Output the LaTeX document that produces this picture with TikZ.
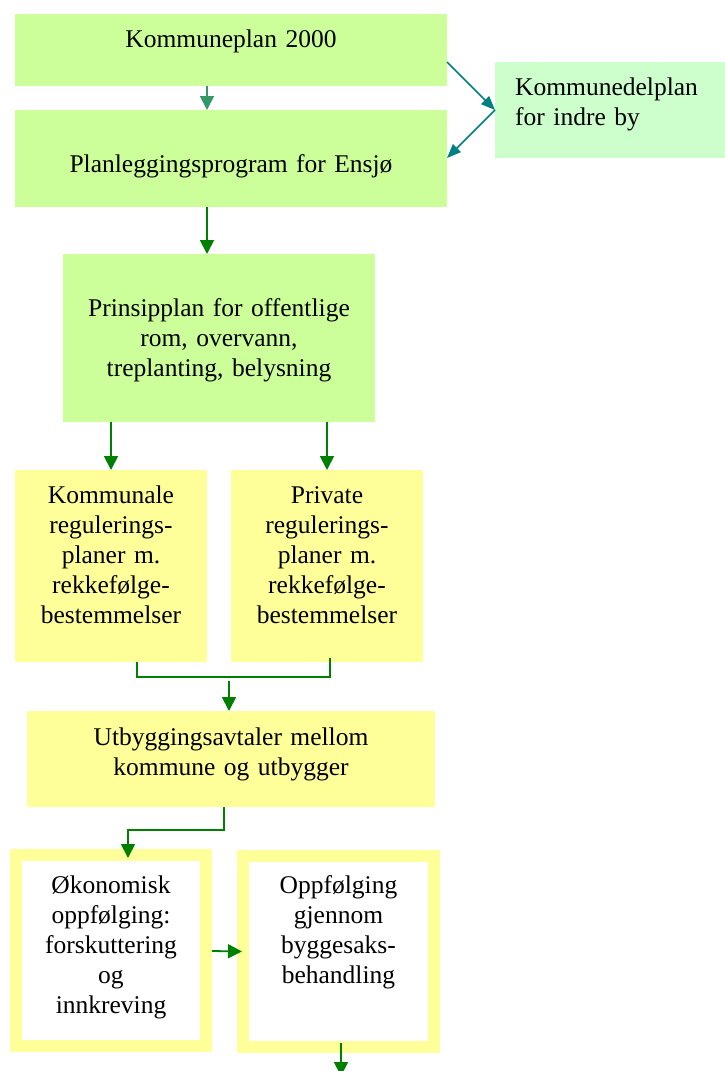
\documentclass[tikz,border=0pt]{standalone}
\usepackage{fontspec}
\setmainfont{Liberation Serif}
\usetikzlibrary{arrows.meta}
\definecolor{lgreen}{HTML}{CCFF99}
\definecolor{mint}{HTML}{CCFFCC}
\definecolor{lyellow}{HTML}{FFFF99}
\definecolor{bordery}{HTML}{FFFF99}
\definecolor{agreen}{HTML}{008000}
\definecolor{ateal}{HTML}{008080}
\definecolor{sgreen}{HTML}{339966}
\begin{document}
\begin{tikzpicture}[x=1pt,y=-1pt,
  box/.style={draw=none,inner sep=0pt,outer sep=0pt},
  framebox/.style={fill=white,draw=bordery,line width=12pt,inner sep=0pt},
  txt/.style={inner sep=0pt,text width=#1,align=center,anchor=base,
    font=\fontsize{25.5}{30}\selectfont},
  arr/.style={line width=1.8pt,agreen,-{Triangle[length=14pt,width=14pt]}},
  tarr/.style={line width=1.6pt,ateal,-{Triangle[length=14pt,width=11pt]}},
  lnk/.style={line width=1.8pt,agreen}]
\useasboundingbox (0,0) rectangle (725,1071);
% boxes
\node[box,fill=lgreen,minimum width=432pt,minimum height=72pt] (k) at (231,50) {};
\node[box,fill=lgreen,minimum width=432pt,minimum height=97pt] (p) at (231,158.5) {};
\node[box,fill=mint,minimum width=230pt,minimum height=96pt] (d) at (610,110) {};
\node[box,fill=lgreen,minimum width=312pt,minimum height=168pt] (pr) at (219,338) {};
\node[box,fill=lyellow,minimum width=192pt,minimum height=192pt] (ka) at (111,566) {};
\node[box,fill=lyellow,minimum width=192pt,minimum height=192pt] (pv) at (327,566) {};
\node[box,fill=lyellow,minimum width=408pt,minimum height=96pt] (u) at (231,759) {};
\node[framebox,minimum width=190pt,minimum height=191pt] (o) at (111,950.5) {};
\node[framebox,minimum width=191pt,minimum height=191pt] (f) at (338.5,951.5) {};
% texts
\node[txt=420pt] (kt) at (231,47) {Kommuneplan 2000};
\node[txt=420pt] (pt) at (231,172) {Planleggingsprogram for Ensjø};
\node[txt=210pt,align=left,anchor=base west] (dt) at (515,95) {Kommunedelplan\\for indre by};
\node[txt=300pt] (prt) at (219,316) {Prinsipplan for offentlige\\rom, overvann,\\treplanting, belysning};
\node[txt=190pt] (kat) at (111,503) {Kommunale\\regulerings-\\planer m.\\rekkefølge-\\bestemmelser};
\node[txt=190pt] (pvt) at (327,503) {Private\\regulerings-\\planer m.\\rekkefølge-\\bestemmelser};
\node[txt=400pt] (ut) at (231,745) {Utbyggingsavtaler mellom\\kommune og utbygger};
\node[txt=178pt] (ot) at (111,893) {Økonomisk\\oppfølging:\\forskuttering\\og\\innkreving};
\node[txt=178pt] (ft) at (338.5,893) {Oppfølging\\gjennom\\byggesaks-\\behandling};
% connectors
\draw[arr,sgreen] ([xshift=-24pt]k.south) -- ([xshift=-24pt]p.north);
\draw[tarr] ([yshift=-48pt]k.north east) -- (d.west);
\draw[tarr] (d.west) -- ([yshift=-48pt]p.north east);
\draw[arr] ([xshift=-24pt]p.south) -- ([xshift=-12pt]pr.north);
\draw[arr] (ka.north |- pr.south) -- (ka.north);
\draw[arr] (pv.north |- pr.south) -- (pv.north);
\draw[lnk] ([xshift=26pt]ka.south) -- ++(0,15) -| ([xshift=3pt,yshift=4pt]pv.south);
\coordinate (jn) at (229,681);
\draw[arr] (jn) -- (jn |- u.north);
\coordinate (oin) at (128,858);
\draw[arr] ([xshift=-7pt]u.south) -- ++(0,23) -| (oin);
\draw[arr] ([yshift=-0.5pt]o.east) -- ([xshift=5pt]f.west);
\coordinate (fout) at (341,1076);
\draw[arr] ([xshift=2.5pt,yshift=10pt]f.south) -- (fout);
\end{tikzpicture}
\end{document}
